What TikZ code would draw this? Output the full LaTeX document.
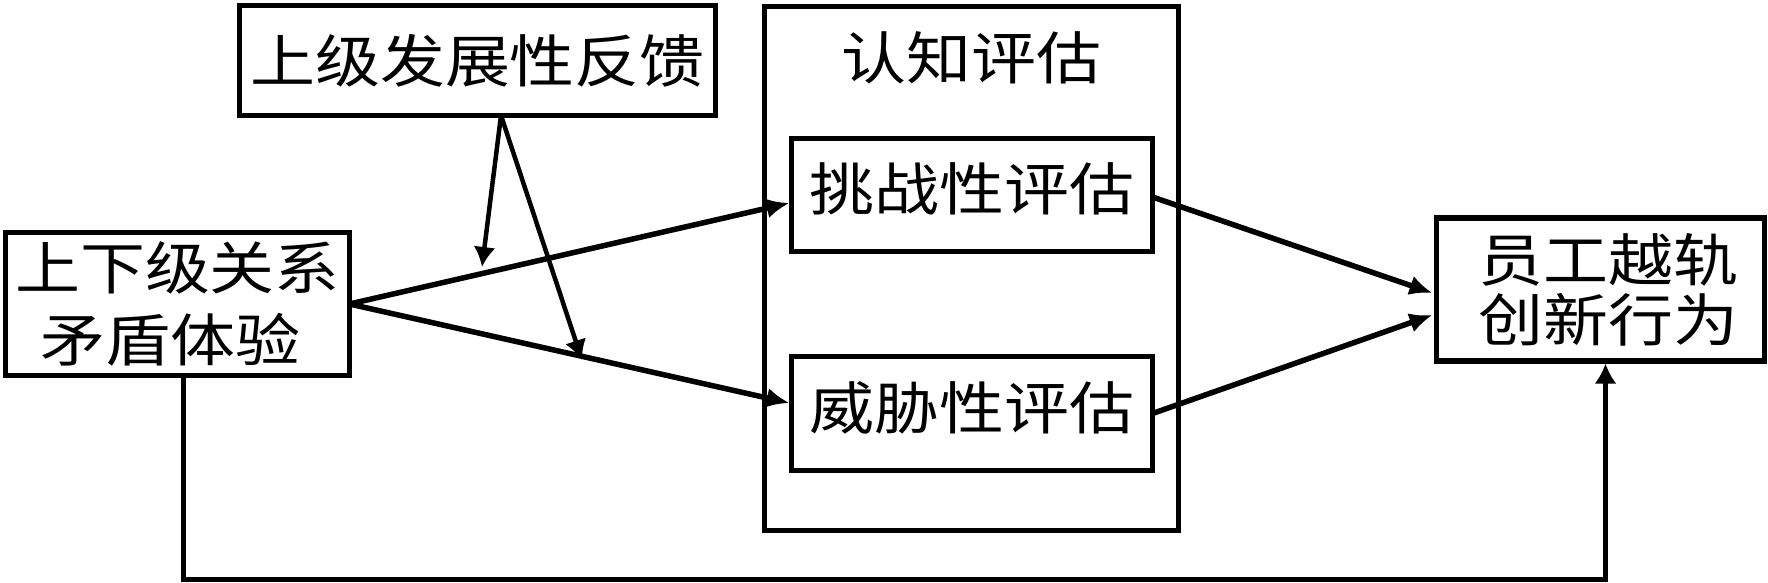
\documentclass[tikz,border=0pt]{standalone}
\usepackage{fontspec}
\setmainfont{Noto Sans CJK SC}[FakeStretch=1.14]
\usetikzlibrary{arrows.meta}
\newcommand{\liftup}[1]{\raisebox{6pt}[\height][\depth]{#1}}
\tikzset{
  box/.style={draw, line width=5.5pt, rectangle, inner sep=0pt, outer sep=0pt, align=center,
    font=\fontsize{57}{72}\selectfont},
  mainarrow/.style={line width=5.5pt, -{Latex[length=23pt,width=20pt]}},
  fbarrow/.style={line width=4.5pt, -{Latex[length=20pt,width=22pt]}},
  title/.style={inner sep=0pt, font=\fontsize{57}{72}\selectfont}
}
\begin{document}
\begin{tikzpicture}[x=1pt,y=-1pt]
\useasboundingbox (0,0) rectangle (1768,582);
% boxes
\node[box, minimum width=476pt, minimum height=110pt] (fb) at (477.5,60.5) {上级发展性反馈};
\node[box, minimum width=344pt, minimum height=143pt] (left) at (177.5,304) {上下级关系\\矛盾体验\hspace*{14pt}};
\node[box, minimum width=414pt, minimum height=524pt] (big) at (971.5,268.5) {};
\node[title] (ttl) at (971.5,58) {认知评估};
\node[box, minimum width=361pt, minimum height=113pt] (ch) at (972,195) {\liftup{挑战性评估}};
\node[box, minimum width=361pt, minimum height=114pt] (th) at (972,413.5) {\liftup{威胁性评估}};
\node[box, minimum width=328pt, minimum height=143pt, font=\fontsize{57}{60}\selectfont] (out) at (1600.5,289.5) {\hspace*{16pt}员工越轨\\\hspace*{16pt}创新行为};
% helper coordinates
\coordinate (m1) at (482,267);
\coordinate (m2) at (582,360);
\coordinate (bot) at (0,579);
\coordinate (s) at ([xshift=5.5pt]left.south);
\coordinate (e) at ([xshift=5pt,yshift=-2.5pt]out.south);
% main arrows
\draw[mainarrow] (left.east) -- ([xshift=-2pt,yshift=-8pt]ch.west);
\draw[mainarrow] (left.east) -- ([xshift=-2pt,yshift=10.5pt]th.west);
\draw[mainarrow] ([yshift=-2pt]ch.east) -- ([xshift=-4pt,yshift=-3.5pt]out.west);
\draw[mainarrow] (th.east) -- ([xshift=-4pt,yshift=-25.5pt]out.west);
% moderator arrows
\draw[fbarrow] ([xshift=23.5pt]fb.south) -- (m1);
\draw[fbarrow] ([xshift=23.5pt]fb.south) -- (m2);
% direct path
\draw[line width=5pt, -{Latex[length=20pt,width=22pt]}] (s) -- (s |- bot) -| (e);
\end{tikzpicture}
\end{document}
